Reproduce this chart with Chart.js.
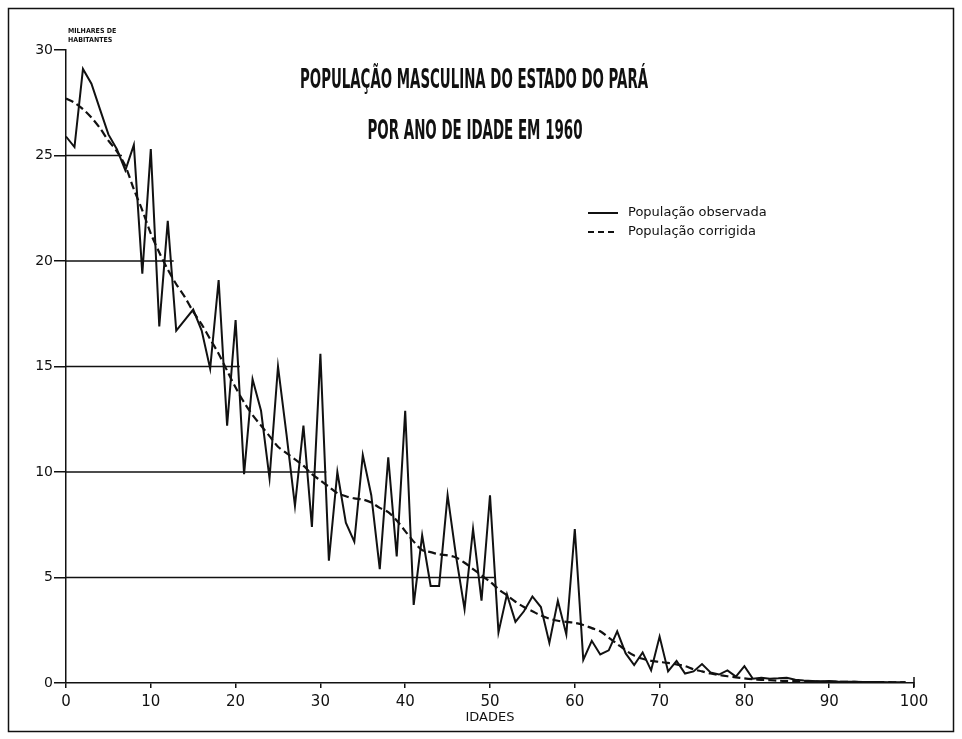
<!DOCTYPE html>
<html>
<head>
<meta charset="utf-8">
<script src="https://cdn.jsdelivr.net/npm/chart.js@4.4.1/dist/chart.umd.min.js"></script>
<style>
  html, body { margin: 0; padding: 0; background: #fff; }
  canvas { display: block; }
</style>
</head>
<body>
<canvas id="chart" width="962" height="739"></canvas>
<script>
// ages 0..99
const ages = [
  0, 1, 2, 3, 4, 5, 6, 7, 8, 9, 10, 11, 12, 13, 14, 15, 16, 17, 18, 19,
  20, 21, 22, 23, 24, 25, 26, 27, 28, 29, 30, 31, 32, 33, 34, 35, 36, 37, 38, 39,
  40, 41, 42, 43, 44, 45, 46, 47, 48, 49, 50, 51, 52, 53, 54, 55, 56, 57, 58, 59,
  60, 61, 62, 63, 64, 65, 66, 67, 68, 69, 70, 71, 72, 73, 74, 75, 76, 77, 78, 79,
  80, 81, 82, 83, 84, 85, 86, 87, 88, 89, 90, 91, 92, 93, 94, 95, 96, 97, 98, 99
];

// thousands of inhabitants
const observed = [
  25.9, 25.4, 29.1, 28.4, 27.2, 26.0, 25.3, 24.3, 25.5, 19.4,
  25.3, 16.9, 21.9, 16.7, 17.2, 17.7, 16.7, 14.9, 19.1, 12.2,
  17.2, 9.9, 14.4, 12.9, 9.7, 15.0, 11.8, 8.4, 12.2, 7.4,
  15.6, 5.8, 10.0, 7.6, 6.7, 10.8, 8.9, 5.4, 10.7, 6.0,
  12.9, 3.7, 7.0, 4.6, 4.6, 8.9, 6.0, 3.5, 7.3, 3.9,
  8.9, 2.4, 4.2, 2.9, 3.4, 4.1, 3.6, 1.9, 3.9, 2.3,
  7.3, 1.1, 2.0, 1.35, 1.55, 2.45, 1.4, 0.85, 1.45, 0.6,
  2.2, 0.55, 1.05, 0.45, 0.55, 0.9, 0.5, 0.4, 0.6, 0.3,
  0.8, 0.2, 0.25, 0.2, 0.22, 0.25, 0.15, 0.12, 0.1, 0.08,
  0.1, 0.07, 0.06, 0.06, 0.05, 0.05, 0.05, 0.04, 0.04, 0.03
];

const corrected = [
  27.7, 27.5, 27.2, 26.8, 26.3, 25.7, 25.2, 24.5, 23.4, 22.4,
  21.3, 20.4, 19.6, 18.9, 18.3, 17.6, 17.0, 16.3, 15.6, 14.8,
  14.0, 13.3, 12.7, 12.2, 11.7, 11.2, 10.9, 10.6, 10.3, 9.9,
  9.6, 9.3, 9.0, 8.85, 8.75, 8.7, 8.55, 8.3, 8.1, 7.7,
  7.2, 6.7, 6.3, 6.2, 6.1, 6.05, 5.95, 5.7, 5.4, 5.1,
  4.8, 4.45, 4.15, 3.85, 3.6, 3.4, 3.2, 3.05, 2.95, 2.9,
  2.85, 2.75, 2.6, 2.45, 2.15, 1.85, 1.55, 1.3, 1.15, 1.05,
  1.0, 0.95, 0.88, 0.8, 0.65, 0.55, 0.45, 0.38, 0.32, 0.27,
  0.22, 0.18, 0.15, 0.13, 0.11, 0.1, 0.09, 0.08, 0.07, 0.06,
  0.05, 0.05, 0.05, 0.05, 0.04, 0.04, 0.04, 0.04, 0.03, 0.03
];

// horizontal guide lines: level and the age where each one stops
const guideLevels = [25, 20, 15, 10, 5];
const guideEnds = [6.6, 12.7, 20.5, 30.7, 50.5];

const titleLines = ["POPULAÇÃO MASCULINA DO ESTADO DO PARÁ", "POR ANO DE IDADE EM 1960"];
const legendLabels = ["População observada", "População corrigida"];
const unitLines = ["MILHARES DE", "HABITANTES"];

const INK = "#111";

const decor = {
  id: "decor",
  beforeDatasetsDraw(chart) {
    const { ctx, scales: { x, y } } = chart;
    ctx.save();
    ctx.strokeStyle = INK;
    ctx.lineWidth = 1.5;
    guideLevels.forEach((v, i) => {
      const py = y.getPixelForValue(v);
      ctx.beginPath();
      ctx.moveTo(x.getPixelForValue(0), py);
      ctx.lineTo(x.getPixelForValue(guideEnds[i]), py);
      ctx.stroke();
    });
    ctx.restore();
  },
  afterDraw(chart) {
    const { ctx, scales: { x, y } } = chart;
    ctx.save();
    ctx.fillStyle = INK;
    ctx.strokeStyle = INK;

    // title
    ctx.textAlign = "center";
    ctx.textBaseline = "middle";
    ctx.font = "bold 26px 'DejaVu Sans Condensed', 'DejaVu Sans'";
    ctx.fillText(titleLines[0], 474, 81, 348);
    ctx.fillText(titleLines[1], 475, 132, 215);

    // unit label above the y axis
    ctx.textAlign = "left";
    ctx.font = "bold 7px 'DejaVu Sans Condensed', 'DejaVu Sans'";
    ctx.fillText(unitLines[0], 68, 31, 52);
    ctx.fillText(unitLines[1], 68, 40, 49);

    // legend
    ctx.lineWidth = 2;
    ctx.beginPath();
    ctx.moveTo(588, 213);
    ctx.lineTo(618, 213);
    ctx.stroke();
    ctx.setLineDash([6, 4]);
    ctx.beginPath();
    ctx.moveTo(588, 232);
    ctx.lineTo(618, 232);
    ctx.stroke();
    ctx.setLineDash([]);
    ctx.font = "13px 'DejaVu Sans'";
    ctx.fillText(legendLabels[0], 628, 213, 144);
    ctx.fillText(legendLabels[1], 628, 232, 138);

    // end cap at 100
    ctx.lineWidth = 1.5;
    const xEnd = x.getPixelForValue(100);
    const y0 = y.getPixelForValue(0);
    ctx.beginPath();
    ctx.moveTo(xEnd, y0 - 6);
    ctx.lineTo(xEnd, y0 + 4);
    ctx.stroke();

    // frame
    ctx.strokeRect(8.5, 8.5, 945, 723);
    ctx.restore();
  }
};

new Chart(document.getElementById("chart"), {
  type: "line",
  data: {
    datasets: [
      {
        label: legendLabels[0],
        data: ages.map((a, i) => ({ x: a, y: observed[i] })),
        borderColor: INK,
        borderWidth: 2,
        pointRadius: 0,
        tension: 0,
        fill: false
      },
      {
        label: legendLabels[1],
        data: ages.map((a, i) => ({ x: a, y: corrected[i] })),
        borderColor: INK,
        borderWidth: 2.2,
        borderDash: [8, 4],
        pointRadius: 0,
        tension: 0.3,
        fill: false
      }
    ]
  },
  options: {
    responsive: false,
    devicePixelRatio: 1,
    animation: false,
    layout: { padding: { left: 0, right: 48, top: 50, bottom: 8 } },
    plugins: {
      legend: { display: false },
      tooltip: { enabled: false }
    },
    scales: {
      x: {
        type: "linear",
        min: 0,
        max: 100,
        afterFit: s => { s.height = 48; },
        border: { display: true, color: INK, width: 1.5 },
        grid: { drawOnChartArea: false, drawTicks: true, tickLength: 5, color: INK, lineWidth: 1.5 },
        ticks: { stepSize: 10, color: INK, padding: 5, maxRotation: 0, font: { family: "'DejaVu Sans'", size: 15 } },
        title: { display: true, text: "IDADES", color: INK, padding: { top: 0, bottom: 6 }, font: { family: "'DejaVu Sans'", size: 13 } }
      },
      y: {
        min: 0,
        max: 30,
        afterFit: s => { s.width = 66; },
        border: { display: true, color: INK, width: 1.5 },
        grid: { drawOnChartArea: false, drawTicks: true, tickLength: 12, color: INK, lineWidth: 1.5 },
        ticks: { stepSize: 5, color: INK, padding: 1, font: { family: "'DejaVu Sans'", size: 14 } }
      }
    }
  },
  plugins: [decor]
});
</script>
</body>
</html>
